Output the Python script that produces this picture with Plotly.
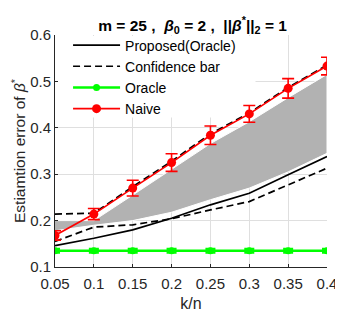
import plotly.graph_objects as go

kn = [0.05, 0.1, 0.15, 0.2, 0.25, 0.3, 0.35, 0.4]
kn_labels = ["0.05", "0.1", "0.15", "0.2", "0.25", "0.3", "0.35", "0.4"]
y_ticks = [0.1, 0.2, 0.3, 0.4, 0.5, 0.6]
y_labels = ["0.1", "0.2", "0.3", "0.4", "0.5", "0.6"]
proposed = [0.146, 0.162, 0.180, 0.205, 0.234, 0.259, 0.299, 0.338]
conf_upper = [0.214, 0.216, 0.273, 0.328, 0.387, 0.432, 0.487, 0.535]
conf_lower = [0.155, 0.186, 0.191, 0.204, 0.223, 0.241, 0.277, 0.313]
oracle = [0.135, 0.135, 0.135, 0.135, 0.135, 0.135, 0.135, 0.135]
oracle_err = [0.004, 0.004, 0.004, 0.004, 0.004, 0.004, 0.004, 0.004]
naive = [0.168, 0.214, 0.270, 0.325, 0.384, 0.430, 0.485, 0.533]
naive_err = [0.010, 0.012, 0.017, 0.019, 0.020, 0.018, 0.021, 0.019]
band_upper = [0.200, 0.200, 0.255, 0.310, 0.366, 0.413, 0.465, 0.515]
band_lower = [0.178, 0.190, 0.200, 0.218, 0.245, 0.270, 0.305, 0.345]

FONT = "Liberation Sans, Arial, sans-serif"

fig = go.Figure()

fig.add_trace(go.Scatter(
    x=kn + kn[::-1], y=band_upper + band_lower[::-1],
    fill="toself", fillcolor="#b2b2b2", mode="lines",
    line=dict(color="white", width=1), showlegend=False, hoverinfo="skip"))

fig.add_trace(go.Scatter(
    x=kn, y=proposed, mode="lines", name="Proposed(Oracle)",
    line=dict(color="black", width=1.7)))
fig.add_trace(go.Scatter(
    x=kn, y=conf_upper, mode="lines", name="Confidence bar",
    line=dict(color="black", width=1.7, dash="7px,4px")))
fig.add_trace(go.Scatter(
    x=kn, y=conf_lower, mode="lines", name="Confidence bar", showlegend=False,
    line=dict(color="black", width=1.7, dash="7px,4px")))
fig.add_trace(go.Scatter(
    x=kn, y=oracle, mode="lines+markers", name="Oracle",
    line=dict(color="#00ff00", width=2.5),
    marker=dict(color="#00ff00", size=7, symbol="circle"),
    error_y=dict(type="data", array=oracle_err, color="#00ff00", thickness=2.5, width=5)))
fig.add_trace(go.Scatter(
    x=kn, y=naive, mode="lines+markers", name="Naive",
    line=dict(color="#ff0000", width=1.7),
    marker=dict(color="#ff0000", size=9, symbol="circle"),
    error_y=dict(type="data", array=naive_err, color="#ff0000", thickness=1.6, width=6)))

# white legend box (between grid and traces)
fig.add_shape(type="rect", xref="x", yref="y", x0=0.0505, x1=0.308, y0=0.422, y1=0.598,
              fillcolor="white", line=dict(width=0), layer="between")

fig.update_layout(
    width=335, height=309,
    margin=dict(l=47, r=16, t=27, b=50, autoexpand=False),
    paper_bgcolor="white", plot_bgcolor="white",
    font=dict(family=FONT, size=15, color="#262626"),
    title=dict(
        text="<b>m = 25 ,&nbsp; <i>β</i><sub>0</sub> = 2 ,&nbsp; ||<i>β</i><sup>*</sup>||<sub>2</sub> = 1</b>",
        x=0.551, xanchor="center", y=0.944, yanchor="middle",
        font=dict(family=FONT, size=15.5, color="black")),
    legend=dict(
        x=0.048, y=1.024, xanchor="left", yanchor="top",
        bgcolor="rgba(0,0,0,0)", borderwidth=0,
        font=dict(family=FONT, size=14, color="black"),
        tracegroupgap=0, itemwidth=47),
    xaxis=dict(
        range=[0.05, 0.4], tickvals=kn, ticktext=kn_labels,
        showgrid=True, gridcolor="#dfdfdf", gridwidth=1,
        showline=True, linecolor="#262626", linewidth=1,
        ticks="inside", ticklen=3, tickcolor="#262626",
        zeroline=False, automargin=False,
        tickfont=dict(size=15), ticklabelstandoff=3,
        title=dict(text="k/n", standoff=6, font=dict(size=16))),
    yaxis=dict(
        range=[0.1, 0.6], tickvals=y_ticks, ticktext=y_labels,
        showgrid=True, gridcolor="#dfdfdf", gridwidth=1,
        showline=True, linecolor="#262626", linewidth=1,
        ticks="inside", ticklen=3, tickcolor="#262626",
        zeroline=False, automargin=False,
        tickfont=dict(size=15),
        title=dict(text="Estiamtion error of <i>β</i><sup>*</sup>", standoff=0, font=dict(size=15.5))),
)

fig.write_html("out.html")
